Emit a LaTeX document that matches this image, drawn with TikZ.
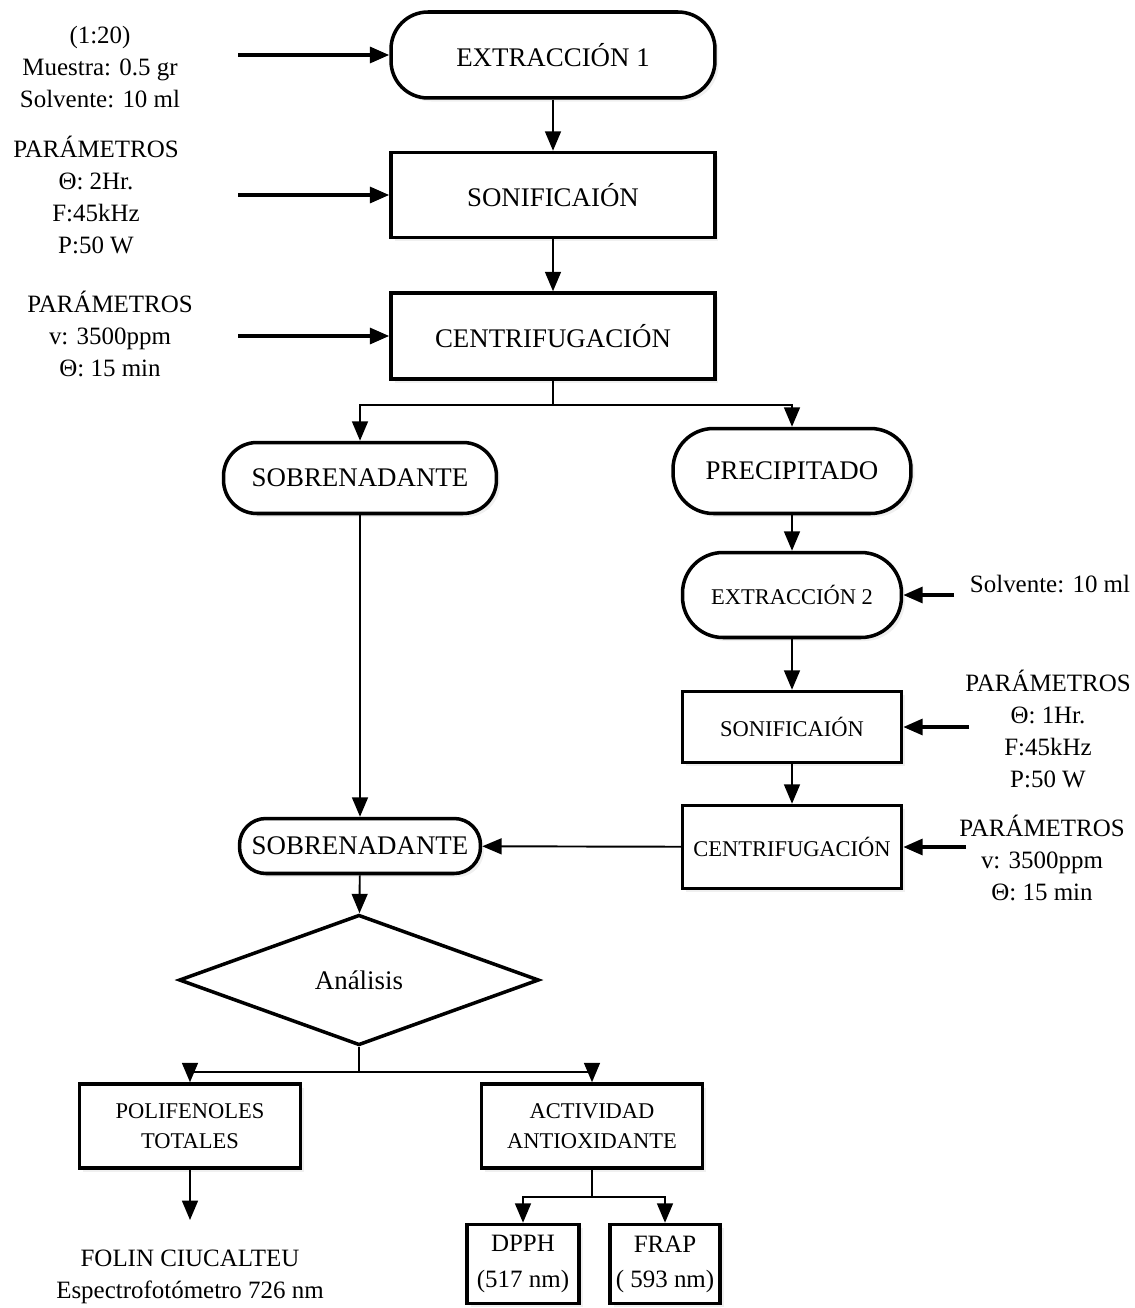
\documentclass[tikz,border=0pt]{standalone}
\usepackage{fontspec}
\setmainfont{Liberation Serif}
\usetikzlibrary{arrows.meta,shapes.geometric,shadows}
\newcommand{\grande}{\fontsize{15.3}{18}\selectfont}
\newcommand{\chica}{\fontsize{12.8}{17}\selectfont}
\newcommand{\media}{\fontsize{14.2}{18.1}\selectfont}
\begin{document}
\begin{tikzpicture}[>={Triangle[length=11pt,width=9pt]},x=0.02cm,y=-0.02cm,
	caja/.style={draw,line width=2pt,fill=white,align=center,inner sep=2pt,font=\grande,
		drop shadow={opacity=0.12,shadow xshift=2pt,shadow yshift=-2pt}},
	ovalo/.style={caja,rounded corners=21pt},
	flecha/.style={->,line width=1.1pt},
	entrada/.style={->,line width=2pt},
	texto/.style={align=center,font=\media}]
	\useasboundingbox (0,0) rectangle (1134,1308);
	% columna central
	\node[ovalo,minimum width=6.48cm,minimum height=1.72cm] (ext1) at (553,55) {EXTRACCIÓN 1};
	\node[caja,minimum width=6.48cm,minimum height=1.70cm] (son1) at (553,195) {SONIFICAIÓN};
	\node[caja,minimum width=6.48cm,minimum height=1.72cm] (cen1) at (553,336) {CENTRIFUGACIÓN};
	\node[ovalo,rounded corners=19pt,minimum width=5.46cm,minimum height=1.42cm] (sob1) at (360,478) {SOBRENADANTE};
	\node[ovalo,rounded corners=23pt,minimum width=4.76cm,minimum height=1.70cm] (pre) at (792,471) {PRECIPITADO};
	\node[ovalo,rounded corners=23pt,font=\chica,minimum width=4.38cm,minimum height=1.70cm] (ext2) at (792,595) {EXTRACCIÓN 2};
	\node[caja,font=\chica,minimum width=4.38cm,minimum height=1.42cm] (son2) at (792,727) {SONIFICAIÓN};
	\node[caja,font=\chica,minimum width=4.38cm,minimum height=1.66cm] (cen2) at (792,847) {CENTRIFUGACIÓN};
	\node[ovalo,rounded corners=15pt,minimum width=4.82cm,minimum height=1.10cm] (sob2) at (360,846) {SOBRENADANTE};
	\node[draw,diamond,line width=2pt,fill=white,font=\grande,minimum width=7.2cm,minimum height=2.12cm] (ana) at (359,980) {Análisis};
	\node[caja,font=\chica,minimum width=4.42cm,minimum height=1.68cm] (poli) at (190,1126) {POLIFENOLES\\TOTALES};
	\node[caja,font=\chica,minimum width=4.42cm,minimum height=1.68cm] (act) at (592,1126) {ACTIVIDAD\\ANTIOXIDANTE};
	\node[caja,font=\fontsize{14.2}{20}\selectfont,minimum width=2.24cm,minimum height=1.58cm] (dpph) at (523,1264) {DPPH\\(517 nm)};
	\node[caja,font=\fontsize{14.2}{20}\selectfont,minimum width=2.20cm,minimum height=1.58cm] (frap) at (665,1264) {FRAP\\( 593 nm)};
	% datos de entrada
	\node[texto] (in1) at (100,67) {(1:20)\\Muestra: 0.5 gr\\Solvente: 10 ml};
	\node[texto] (in2) at (96,195) {PARÁMETROS\\Θ: 2Hr.\\F:45kHz\\P:50 W};
	\node[texto] (in3) at (110,334) {PARÁMETROS\\v: 3500ppm\\Θ: 15 min};
	\node[texto] (in4) at (1050,584) {Solvente: 10 ml};
	\node[texto] (in5) at (1048,729) {PARÁMETROS\\Θ: 1Hr.\\F:45kHz\\P:50 W};
	\node[texto] (in6) at (1042,858) {PARÁMETROS\\v: 3500ppm\\Θ: 15 min};
	\node[texto] (folin) at (190,1277) {FOLIN CIUCALTEU\\Espectrofotómetro 726 nm};
	\coordinate (e1) at (238,55);
	\coordinate (e2) at (238,195);
	\coordinate (e3) at (238,336);
	\coordinate (e4) at (954,595);
	\coordinate (e5) at (969,727);
	\coordinate (e6) at (966,847);
	\coordinate (fin) at (190,1220);
	\draw[entrada] (e1) -- (ext1);
	\draw[entrada] (e2) -- (son1);
	\draw[entrada] (e3) -- (cen1);
	\draw[entrada] (e4) -- (ext2);
	\draw[entrada] (e5) -- (son2);
	\draw[entrada] (e6) -- (cen2);
	% conexiones
	\draw[flecha] (ext1) -- (son1);
	\draw[flecha] (son1) -- (cen1);
	\draw[flecha] (cen1.south) -- ++(0,24) -| (sob1);
	\draw[flecha] (cen1.south) -- ++(0,24) -| (pre);
	\draw[flecha] (sob1) -- (sob2);
	\draw[flecha] (pre) -- (ext2);
	\draw[flecha] (ext2) -- (son2);
	\draw[flecha] (son2) -- (cen2);
	\draw[flecha] (cen2) -- (sob2);
	\draw[flecha] (sob2) -- (ana);
	\draw[flecha] (ana.south) -- ++(0,25) -| (poli);
	\draw[flecha] (ana.south) -- ++(0,25) -| (act);
	\draw[flecha] (poli) -- (fin);
	\draw[flecha] (act.south) -- ++(0,27) -| (dpph);
	\draw[flecha] (act.south) -- ++(0,27) -| (frap);
\end{tikzpicture}
\end{document}
